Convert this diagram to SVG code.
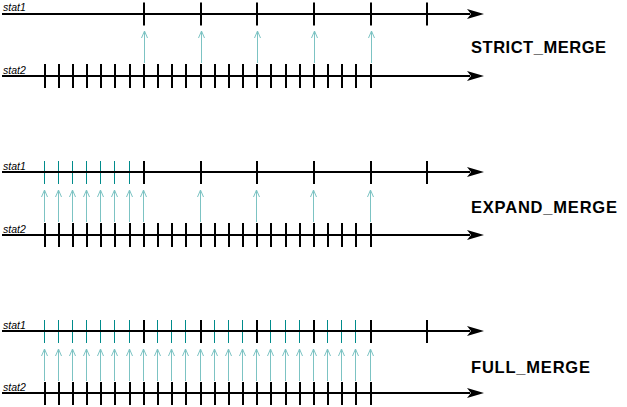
<svg xmlns="http://www.w3.org/2000/svg" width="627" height="407" viewBox="0 0 627 407">
<defs>
<style>
.axis{stroke:#000;stroke-width:2;fill:none}
.tk{stroke:#000;stroke-width:2}
.tt{stroke:#008b8b;stroke-width:1}
.cn{stroke:#7cc3c3;stroke-width:1;fill:none}
.lbl{font-family:"Liberation Sans",Arial,sans-serif;font-style:italic;font-size:10.5px;fill:#000}
.ttl{font-family:"Liberation Sans",Arial,sans-serif;font-weight:bold;font-size:16.5px;fill:#000}
.ah{fill:#000}
</style>
<marker id="oa" markerWidth="10" markerHeight="10" refX="8" refY="5" orient="auto" markerUnits="userSpaceOnUse" viewBox="0 0 10 10">
<path d="M1,2 L8,5 L1,8" stroke="#7cc3c3" stroke-width="1" fill="none"/>
</marker>
</defs>

<!-- ===== STRICT_MERGE ===== -->
<g id="strict-stat1">
<line class="axis" x1="2" y1="14" x2="470" y2="14"/>
<polygon class="ah" points="484,14 467,9 471,14 467,19"/>
<g class="tk">
<line x1="144" y1="2.5" x2="144" y2="25.5"/><line x1="201" y1="2.5" x2="201" y2="25.5"/><line x1="257" y1="2.5" x2="257" y2="25.5"/><line x1="314" y1="2.5" x2="314" y2="25.5"/><line x1="371" y1="2.5" x2="371" y2="25.5"/><line x1="427" y1="2.5" x2="427" y2="25.5"/>
</g>
<text class="lbl" x="3" y="11">stat1</text>
</g>
<g id="strict-stat2">
<line class="axis" x1="2" y1="76" x2="470" y2="76"/>
<polygon class="ah" points="484,76 467,71 471,76 467,81"/>
<g class="tk">
<line x1="45" y1="64" x2="45" y2="88"/><line x1="59" y1="64" x2="59" y2="88"/><line x1="73" y1="64" x2="73" y2="88"/><line x1="87" y1="64" x2="87" y2="88"/><line x1="101" y1="64" x2="101" y2="88"/><line x1="115" y1="64" x2="115" y2="88"/><line x1="130" y1="64" x2="130" y2="88"/><line x1="144" y1="64" x2="144" y2="88"/><line x1="158" y1="64" x2="158" y2="88"/><line x1="172" y1="64" x2="172" y2="88"/><line x1="186" y1="64" x2="186" y2="88"/><line x1="201" y1="64" x2="201" y2="88"/><line x1="215" y1="64" x2="215" y2="88"/><line x1="229" y1="64" x2="229" y2="88"/><line x1="243" y1="64" x2="243" y2="88"/><line x1="257" y1="64" x2="257" y2="88"/><line x1="271" y1="64" x2="271" y2="88"/><line x1="286" y1="64" x2="286" y2="88"/><line x1="300" y1="64" x2="300" y2="88"/><line x1="314" y1="64" x2="314" y2="88"/><line x1="328" y1="64" x2="328" y2="88"/><line x1="342" y1="64" x2="342" y2="88"/><line x1="356" y1="64" x2="356" y2="88"/><line x1="371" y1="64" x2="371" y2="88"/>
</g>
<text class="lbl" x="3" y="74">stat2</text>
</g>
<g id="strict-title"><text class="ttl" x="471" y="53" textLength="135" lengthAdjust="spacing">STRICT_MERGE</text></g>

<!-- ===== EXPAND_MERGE ===== -->
<g id="expand-stat1">
<g class="tt">
<line x1="44.5" y1="161" x2="44.5" y2="184"/><line x1="58.5" y1="161" x2="58.5" y2="184"/><line x1="72.5" y1="161" x2="72.5" y2="184"/><line x1="86.5" y1="161" x2="86.5" y2="184"/><line x1="100.5" y1="161" x2="100.5" y2="184"/><line x1="114.5" y1="161" x2="114.5" y2="184"/><line x1="129.5" y1="161" x2="129.5" y2="184"/>
</g>
<line class="axis" x1="2" y1="172" x2="470" y2="172"/>
<polygon class="ah" points="484,172 467,167 471,172 467,177"/>
<g class="tk">
<line x1="144" y1="161" x2="144" y2="184"/><line x1="201" y1="161" x2="201" y2="184"/><line x1="257" y1="161" x2="257" y2="184"/><line x1="314" y1="161" x2="314" y2="184"/><line x1="371" y1="161" x2="371" y2="184"/><line x1="427" y1="161" x2="427" y2="184"/>
</g>
<text class="lbl" x="3" y="170">stat1</text>
</g>
<g id="expand-stat2">
<line class="axis" x1="2" y1="235" x2="470" y2="235"/>
<polygon class="ah" points="484,235 467,230 471,235 467,240"/>
<g class="tk">
<line x1="45" y1="223" x2="45" y2="247"/><line x1="59" y1="223" x2="59" y2="247"/><line x1="73" y1="223" x2="73" y2="247"/><line x1="87" y1="223" x2="87" y2="247"/><line x1="101" y1="223" x2="101" y2="247"/><line x1="115" y1="223" x2="115" y2="247"/><line x1="130" y1="223" x2="130" y2="247"/><line x1="144" y1="223" x2="144" y2="247"/><line x1="158" y1="223" x2="158" y2="247"/><line x1="172" y1="223" x2="172" y2="247"/><line x1="186" y1="223" x2="186" y2="247"/><line x1="201" y1="223" x2="201" y2="247"/><line x1="215" y1="223" x2="215" y2="247"/><line x1="229" y1="223" x2="229" y2="247"/><line x1="243" y1="223" x2="243" y2="247"/><line x1="257" y1="223" x2="257" y2="247"/><line x1="271" y1="223" x2="271" y2="247"/><line x1="286" y1="223" x2="286" y2="247"/><line x1="300" y1="223" x2="300" y2="247"/><line x1="314" y1="223" x2="314" y2="247"/><line x1="328" y1="223" x2="328" y2="247"/><line x1="342" y1="223" x2="342" y2="247"/><line x1="356" y1="223" x2="356" y2="247"/><line x1="371" y1="223" x2="371" y2="247"/>
</g>
<text class="lbl" x="3" y="233">stat2</text>
</g>
<g id="expand-title"><text class="ttl" x="471" y="213" textLength="146" lengthAdjust="spacing">EXPAND_MERGE</text></g>

<!-- ===== FULL_MERGE ===== -->
<g id="full-stat1">
<g class="tt">
<line x1="44.5" y1="320" x2="44.5" y2="343"/><line x1="58.5" y1="320" x2="58.5" y2="343"/><line x1="72.5" y1="320" x2="72.5" y2="343"/><line x1="86.5" y1="320" x2="86.5" y2="343"/><line x1="100.5" y1="320" x2="100.5" y2="343"/><line x1="114.5" y1="320" x2="114.5" y2="343"/><line x1="129.5" y1="320" x2="129.5" y2="343"/><line x1="157.5" y1="320" x2="157.5" y2="343"/><line x1="171.5" y1="320" x2="171.5" y2="343"/><line x1="185.5" y1="320" x2="185.5" y2="343"/><line x1="214.5" y1="320" x2="214.5" y2="343"/><line x1="228.5" y1="320" x2="228.5" y2="343"/><line x1="242.5" y1="320" x2="242.5" y2="343"/><line x1="270.5" y1="320" x2="270.5" y2="343"/><line x1="285.5" y1="320" x2="285.5" y2="343"/><line x1="299.5" y1="320" x2="299.5" y2="343"/><line x1="327.5" y1="320" x2="327.5" y2="343"/><line x1="341.5" y1="320" x2="341.5" y2="343"/><line x1="355.5" y1="320" x2="355.5" y2="343"/>
</g>
<line class="axis" x1="2" y1="331" x2="470" y2="331"/>
<polygon class="ah" points="484,331 467,326 471,331 467,336"/>
<g class="tk">
<line x1="144" y1="320" x2="144" y2="343"/><line x1="201" y1="320" x2="201" y2="343"/><line x1="257" y1="320" x2="257" y2="343"/><line x1="314" y1="320" x2="314" y2="343"/><line x1="371" y1="320" x2="371" y2="343"/><line x1="427" y1="320" x2="427" y2="343"/>
</g>
<text class="lbl" x="3" y="329">stat1</text>
</g>
<g id="full-stat2">
<line class="axis" x1="2" y1="393" x2="470" y2="393"/>
<polygon class="ah" points="484,393 467,388 471,393 467,398"/>
<g class="tk">
<line x1="45" y1="382" x2="45" y2="405"/><line x1="59" y1="382" x2="59" y2="405"/><line x1="73" y1="382" x2="73" y2="405"/><line x1="87" y1="382" x2="87" y2="405"/><line x1="101" y1="382" x2="101" y2="405"/><line x1="115" y1="382" x2="115" y2="405"/><line x1="130" y1="382" x2="130" y2="405"/><line x1="144" y1="382" x2="144" y2="405"/><line x1="158" y1="382" x2="158" y2="405"/><line x1="172" y1="382" x2="172" y2="405"/><line x1="186" y1="382" x2="186" y2="405"/><line x1="201" y1="382" x2="201" y2="405"/><line x1="215" y1="382" x2="215" y2="405"/><line x1="229" y1="382" x2="229" y2="405"/><line x1="243" y1="382" x2="243" y2="405"/><line x1="257" y1="382" x2="257" y2="405"/><line x1="271" y1="382" x2="271" y2="405"/><line x1="286" y1="382" x2="286" y2="405"/><line x1="300" y1="382" x2="300" y2="405"/><line x1="314" y1="382" x2="314" y2="405"/><line x1="328" y1="382" x2="328" y2="405"/><line x1="342" y1="382" x2="342" y2="405"/><line x1="356" y1="382" x2="356" y2="405"/><line x1="371" y1="382" x2="371" y2="405"/>
</g>
<text class="lbl" x="3" y="391">stat2</text>
</g>
<g id="full-title"><text class="ttl" x="471" y="373" textLength="119" lengthAdjust="spacing">FULL_MERGE</text></g>

<!-- ===== connectors ===== -->
<g id="connectors" class="cn">
<g id="strict-links">
<line x1="144.5" y1="63" x2="144.5" y2="31" marker-end="url(#oa)"/><line x1="201.5" y1="63" x2="201.5" y2="31" marker-end="url(#oa)"/><line x1="257.5" y1="63" x2="257.5" y2="31" marker-end="url(#oa)"/><line x1="314.5" y1="63" x2="314.5" y2="31" marker-end="url(#oa)"/><line x1="371.5" y1="63" x2="371.5" y2="31" marker-end="url(#oa)"/>
</g>
<g id="expand-links">
<line x1="44.5" y1="222" x2="44.5" y2="190" marker-end="url(#oa)"/><line x1="58.5" y1="222" x2="58.5" y2="190" marker-end="url(#oa)"/><line x1="72.5" y1="222" x2="72.5" y2="190" marker-end="url(#oa)"/><line x1="86.5" y1="222" x2="86.5" y2="190" marker-end="url(#oa)"/><line x1="100.5" y1="222" x2="100.5" y2="190" marker-end="url(#oa)"/><line x1="114.5" y1="222" x2="114.5" y2="190" marker-end="url(#oa)"/><line x1="129.5" y1="222" x2="129.5" y2="190" marker-end="url(#oa)"/><line x1="143.5" y1="222" x2="143.5" y2="190" marker-end="url(#oa)"/><line x1="200.5" y1="222" x2="200.5" y2="190" marker-end="url(#oa)"/><line x1="256.5" y1="222" x2="256.5" y2="190" marker-end="url(#oa)"/><line x1="313.5" y1="222" x2="313.5" y2="190" marker-end="url(#oa)"/><line x1="370.5" y1="222" x2="370.5" y2="190" marker-end="url(#oa)"/>
</g>
<g id="full-links">
<line x1="44.5" y1="381" x2="44.5" y2="349" marker-end="url(#oa)"/><line x1="58.5" y1="381" x2="58.5" y2="349" marker-end="url(#oa)"/><line x1="72.5" y1="381" x2="72.5" y2="349" marker-end="url(#oa)"/><line x1="86.5" y1="381" x2="86.5" y2="349" marker-end="url(#oa)"/><line x1="100.5" y1="381" x2="100.5" y2="349" marker-end="url(#oa)"/><line x1="114.5" y1="381" x2="114.5" y2="349" marker-end="url(#oa)"/><line x1="129.5" y1="381" x2="129.5" y2="349" marker-end="url(#oa)"/><line x1="143.5" y1="381" x2="143.5" y2="349" marker-end="url(#oa)"/><line x1="157.5" y1="381" x2="157.5" y2="349" marker-end="url(#oa)"/><line x1="171.5" y1="381" x2="171.5" y2="349" marker-end="url(#oa)"/><line x1="185.5" y1="381" x2="185.5" y2="349" marker-end="url(#oa)"/><line x1="200.5" y1="381" x2="200.5" y2="349" marker-end="url(#oa)"/><line x1="214.5" y1="381" x2="214.5" y2="349" marker-end="url(#oa)"/><line x1="228.5" y1="381" x2="228.5" y2="349" marker-end="url(#oa)"/><line x1="242.5" y1="381" x2="242.5" y2="349" marker-end="url(#oa)"/><line x1="256.5" y1="381" x2="256.5" y2="349" marker-end="url(#oa)"/><line x1="270.5" y1="381" x2="270.5" y2="349" marker-end="url(#oa)"/><line x1="285.5" y1="381" x2="285.5" y2="349" marker-end="url(#oa)"/><line x1="299.5" y1="381" x2="299.5" y2="349" marker-end="url(#oa)"/><line x1="313.5" y1="381" x2="313.5" y2="349" marker-end="url(#oa)"/><line x1="327.5" y1="381" x2="327.5" y2="349" marker-end="url(#oa)"/><line x1="341.5" y1="381" x2="341.5" y2="349" marker-end="url(#oa)"/><line x1="355.5" y1="381" x2="355.5" y2="349" marker-end="url(#oa)"/><line x1="370.5" y1="381" x2="370.5" y2="349" marker-end="url(#oa)"/>
</g>
</g>
</svg>
